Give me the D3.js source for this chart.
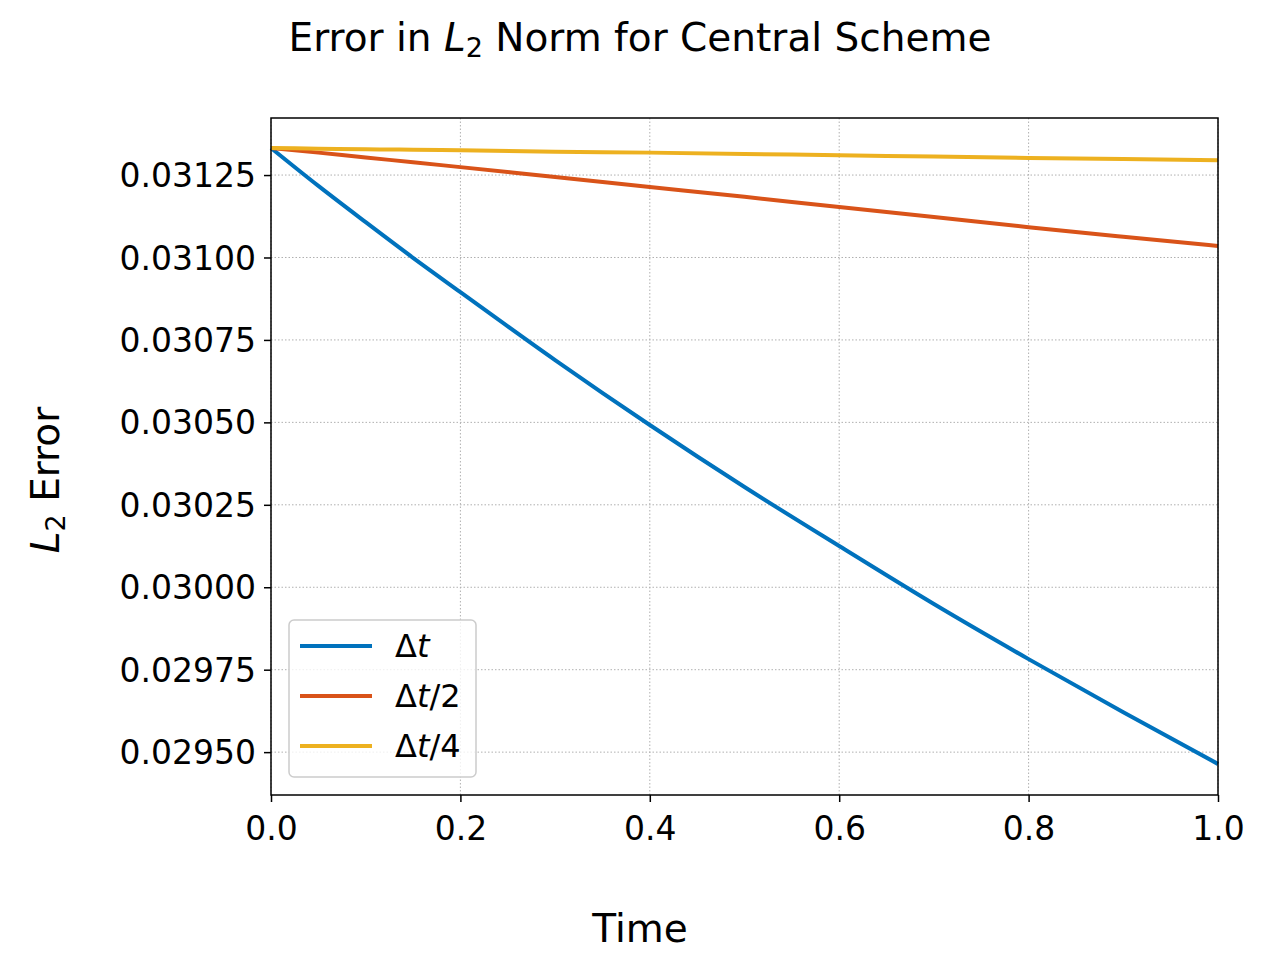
<!DOCTYPE html>
<html><head><meta charset="utf-8">
<script src="https://cdn.jsdelivr.net/npm/d3@7"></script>
<style>body{margin:0;background:#fff}text{font-family:"DejaVu Sans",sans-serif}</style>
</head><body>
<svg id="c" width="1280" height="960"></svg>
<script>
const times = [0,0.05,0.1,0.15,0.2,0.3,0.4,0.5,0.6,0.7,0.8,0.9,1.0];
const errDt = [0.031332,0.031217,0.031107,0.030999,0.030895,0.030689,0.030492,0.030304,0.030125,0.029949,0.029782,0.029621,0.029464];
const errDt2 = [0.031332,0.031318,0.031303,0.031289,0.031274,0.031244,0.031214,0.031184,0.031153,0.031123,0.031092,0.031063,0.031035];
const errDt4 = [0.031332,0.031330,0.031328,0.031327,0.031325,0.031321,0.031318,0.031314,0.031310,0.031306,0.031302,0.031299,0.031295];
const xTicks = [0,0.2,0.4,0.6,0.8,1.0];
const yTicks = [0.0295,0.02975,0.03,0.03025,0.0305,0.03075,0.031,0.03125];
const seriesNames = ["Δt","Δt/2","Δt/4"];
const colors = ["#0072bd","#d95319","#edb120"];
const svg = d3.select("#c");
const L=271,R=1218,T=118,B=795;
const x = d3.scaleLinear().domain([0,1]).range([L,R]);
const y = d3.scaleLinear().domain([0.029370,0.031423]).range([B,T]);
const g = svg.append("g");
g.selectAll(".gx").data(xTicks).join("line").attr("x1",d=>x(d)).attr("x2",d=>x(d)).attr("y1",T).attr("y2",B).attr("stroke","#b0b0b0").attr("stroke-width",1).attr("stroke-dasharray","1.5,2");
g.selectAll(".gy").data(yTicks).join("line").attr("y1",d=>y(d)).attr("y2",d=>y(d)).attr("x1",L).attr("x2",R).attr("stroke","#b0b0b0").attr("stroke-width",1).attr("stroke-dasharray","1.5,2");
const xa = svg.append("g").attr("transform",`translate(0,${B})`).call(d3.axisBottom(x).tickValues(xTicks).tickFormat(d3.format(".1f")).tickSize(7).tickSizeOuter(0));
const ya = svg.append("g").attr("transform",`translate(${L},0)`).call(d3.axisLeft(y).tickValues(yTicks).tickFormat(d3.format(".5f")).tickSize(7).tickSizeOuter(0));
[xa,ya].forEach(a=>{a.selectAll("text").attr("font-size",33).attr("fill","#000").attr("font-family","DejaVu Sans");a.selectAll("line").attr("stroke","#000").attr("stroke-width",1.5);a.select(".domain").remove();});
xa.selectAll("text").attr("y",14).attr("dy","0.95em");
ya.selectAll("text").attr("x",-15).attr("dy","0.35em");
const line = d3.line().curve(d3.curveMonotoneX).x((d,i)=>x(times[i])).y(d=>y(d));
[errDt,errDt2,errDt4].forEach((s,i)=>{
  svg.append("path").attr("d",line(s)).attr("fill","none").attr("stroke",colors[i]).attr("stroke-width",4);
});
svg.append("rect").attr("x",L).attr("y",T).attr("width",R-L).attr("height",B-T).attr("fill","none").attr("stroke","#000").attr("stroke-width",1.5);
const lg = svg.append("g");
lg.append("rect").attr("x",289).attr("y",620).attr("width",187).attr("height",157).attr("rx",5).attr("fill","#fff").attr("fill-opacity",0.8).attr("stroke","#ccc").attr("stroke-width",1.5);
seriesNames.forEach((n,i)=>{
  const yy=646+i*50;
  lg.append("line").attr("x1",300).attr("x2",372).attr("y1",yy).attr("y2",yy).attr("stroke",colors[i]).attr("stroke-width",4);
  const t=lg.append("text").attr("x",395).attr("y",yy+11).attr("font-size",32);
  t.append("tspan").text("Δ");
  t.append("tspan").attr("font-style","italic").text("t");
  if(i>0) t.append("tspan").text(i==1?"/2":"/4");
});
const tt = svg.append("text").attr("x",640).attr("y",51).attr("text-anchor","middle").attr("font-size",39);
tt.append("tspan").text("Error in ");
tt.append("tspan").attr("font-style","italic").text("L");
tt.append("tspan").attr("font-size",27).attr("dy",6).text("2");
tt.append("tspan").attr("dy",-6).text(" Norm for Central Scheme");
svg.append("text").attr("x",640).attr("y",942).attr("text-anchor","middle").attr("font-size",39).text("Time");
const yl = svg.append("text").attr("transform","translate(59,480) rotate(-90)").attr("text-anchor","middle").attr("font-size",39);
yl.append("tspan").attr("font-style","italic").text("L");
yl.append("tspan").attr("font-size",27).attr("dy",6).text("2");
yl.append("tspan").attr("dy",-6).text(" Error");
</script>
</body></html>
